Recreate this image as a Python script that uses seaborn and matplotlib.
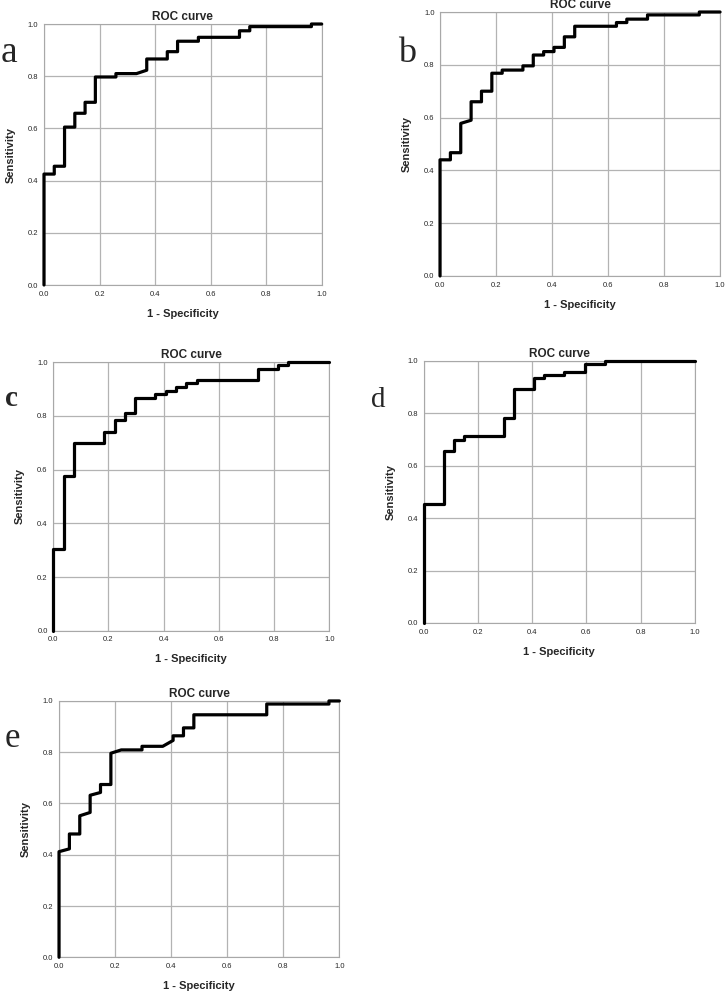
import numpy as np
import pandas as pd
import matplotlib
matplotlib.use("Agg")
import matplotlib.pyplot as plt
import seaborn as sns

# vertices of the ROC step curves
a_fpr = [0, 0, 0.037, 0.037, 0.074, 0.074, 0.111, 0.111, 0.148, 0.148, 0.185, 0.185,
         0.259, 0.259, 0.333, 0.370, 0.370, 0.444, 0.444, 0.481, 0.481, 0.556, 0.556,
         0.704, 0.704, 0.741, 0.741, 0.963, 0.963, 1.0]
a_tpr = [0, 0.425, 0.425, 0.455, 0.455, 0.605, 0.605, 0.658, 0.658, 0.700, 0.700, 0.797,
         0.797, 0.810, 0.810, 0.823, 0.866, 0.866, 0.894, 0.894, 0.934, 0.934, 0.949,
         0.949, 0.974, 0.974, 0.990, 0.990, 1.0, 1.0]

b_fpr = [0, 0, 0.037, 0.037, 0.074, 0.074, 0.111, 0.111, 0.148, 0.148, 0.185, 0.185,
         0.222, 0.222, 0.296, 0.296, 0.333, 0.333, 0.370, 0.370, 0.407, 0.407, 0.444,
         0.444, 0.481, 0.481, 0.630, 0.630, 0.667, 0.667, 0.741, 0.741, 0.926, 0.926, 1.0]
b_tpr = [0, 0.440, 0.440, 0.467, 0.467, 0.578, 0.590, 0.660, 0.660, 0.700, 0.700, 0.768,
         0.768, 0.780, 0.780, 0.796, 0.796, 0.837, 0.837, 0.850, 0.850, 0.866, 0.866,
         0.906, 0.906, 0.946, 0.946, 0.960, 0.960, 0.973, 0.973, 0.989, 0.989, 1.0, 1.0]

c_fpr = [0, 0, 0.037, 0.037, 0.074, 0.074, 0.185, 0.185, 0.222, 0.222, 0.259, 0.259,
         0.296, 0.296, 0.370, 0.370, 0.407, 0.407, 0.444, 0.444, 0.481, 0.481, 0.519,
         0.519, 0.741, 0.741, 0.815, 0.815, 0.852, 0.852, 1.0]
c_tpr = [0, 0.303, 0.303, 0.577, 0.577, 0.699, 0.699, 0.741, 0.741, 0.785, 0.785, 0.811,
         0.811, 0.866, 0.866, 0.881, 0.881, 0.894, 0.894, 0.907, 0.907, 0.922, 0.922,
         0.934, 0.934, 0.975, 0.975, 0.989, 0.989, 1.0, 1.0]

d_fpr = [0, 0, 0.074, 0.074, 0.111, 0.111, 0.148, 0.148, 0.296, 0.296, 0.333, 0.333,
         0.407, 0.407, 0.444, 0.444, 0.519, 0.519, 0.593, 0.593, 0.667, 0.667, 1.0]
d_tpr = [0, 0.453, 0.453, 0.658, 0.658, 0.700, 0.700, 0.713, 0.713, 0.781, 0.781, 0.892,
         0.892, 0.934, 0.934, 0.947, 0.947, 0.959, 0.959, 0.988, 0.988, 1.0, 1.0]

e_fpr = [0, 0, 0.037, 0.037, 0.074, 0.074, 0.111, 0.111, 0.148, 0.148, 0.185, 0.185,
         0.222, 0.296, 0.296, 0.370, 0.407, 0.407, 0.444, 0.444, 0.481, 0.481, 0.741,
         0.741, 0.963, 0.963, 1.0]
e_tpr = [0, 0.412, 0.423, 0.481, 0.481, 0.552, 0.565, 0.632, 0.643, 0.674, 0.674, 0.796,
         0.809, 0.809, 0.823, 0.823, 0.846, 0.864, 0.864, 0.895, 0.895, 0.946, 0.946,
         0.988, 0.988, 1.0, 1.0]

panels = [
    ("a", a_fpr, a_tpr, [0.0606, 0.7127, 0.3825, 0.2631], (0.0124, 0.9375), 27, "normal"),
    ("b", b_fpr, b_tpr, [0.6061, 0.7218, 0.3857, 0.2661], (0.5606, 0.9375), 26, "normal"),
    ("c", c_fpr, c_tpr, [0.0734, 0.3642, 0.3802, 0.2706], (0.0152, 0.5907), 21, "bold"),
    ("d", d_fpr, d_tpr, [0.5840, 0.3720, 0.3729, 0.2641], (0.5207, 0.5897), 21, "normal"),
    ("e", e_fpr, e_tpr, [0.0813, 0.0350, 0.3861, 0.2584], (0.0165, 0.2470), 25, "normal"),
]

sns.set_style("whitegrid")
plt.rcParams['font.family'] = ['Liberation Sans', 'DejaVu Sans']

fig = plt.figure(figsize=(7.26, 9.92), dpi=100)
ticks = np.arange(0, 1.01, 0.2)

for letter, fpr, tpr, rect, pos, size, weight in panels:
    ax = fig.add_axes(rect)
    df = pd.DataFrame({'fpr': fpr, 'tpr': tpr})
    sns.lineplot(data=df, x='fpr', y='tpr', sort=False, estimator=None,
                 color='black', linewidth=2.3, ax=ax, clip_on=False, zorder=5)
    ax.set_xlim(0, 1)
    ax.set_ylim(0, 1)
    ax.set_xticks(ticks)
    ax.set_yticks(ticks)
    ax.set_xticklabels([f"{t:.1f}" for t in ticks])
    ax.set_yticklabels([f"{t:.1f}" for t in ticks])
    ax.grid(True, color='#b3b3b3', linewidth=0.9)
    for sp in ax.spines.values():
        sp.set_color('#a8a8a8')
        sp.set_linewidth(0.8)
    ax.tick_params(length=2, width=0.6, color='#888888', labelsize=5.5, pad=2)
    ax.set_title('ROC curve', fontsize=8.5, fontweight='bold', pad=3)
    ax.set_xlabel('1 - Specificity', fontsize=8, fontweight='bold', labelpad=8)
    ax.set_ylabel('Sensitivity', fontsize=8, fontweight='bold', labelpad=9)
    fig.text(pos[0], pos[1], letter, ha='center', va='baseline', fontsize=size,
             fontweight=weight, family=['Liberation Serif', 'DejaVu Serif'])

fig.savefig('out.png', dpi=100, facecolor='white')
